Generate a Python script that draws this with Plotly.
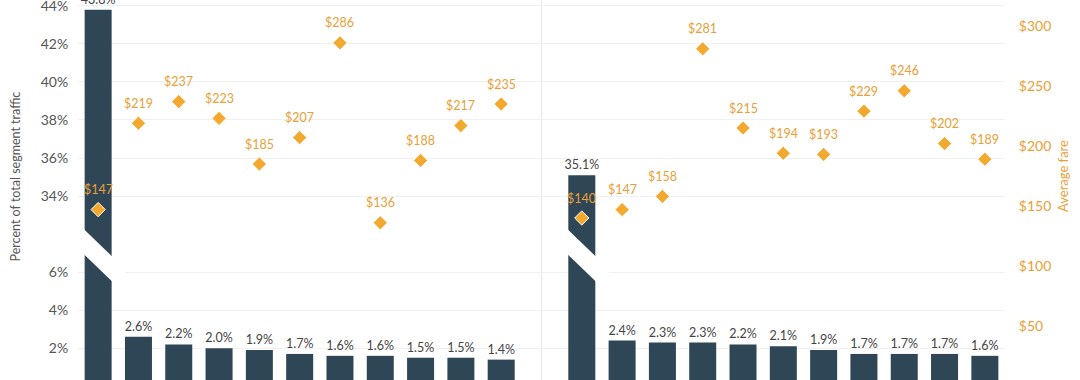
import plotly.graph_objects as go

# ---------------- data ----------------
left_categories = ["L1", "L2", "L3", "L4", "L5", "L6", "L7", "L8", "L9", "L10", "L11"]
right_categories = ["R1", "R2", "R3", "R4", "R5", "R6", "R7", "R8", "R9", "R10", "R11"]
spacer = " "

left_share = [43.8, 2.6, 2.2, 2.0, 1.9, 1.7, 1.6, 1.6, 1.5, 1.5, 1.4]
right_share = [35.1, 2.4, 2.3, 2.3, 2.2, 2.1, 1.9, 1.7, 1.7, 1.7, 1.6]
left_fare = [147, 219, 237, 223, 185, 207, 286, 136, 188, 217, 235]
right_fare = [140, 147, 158, 281, 215, 194, 193, 229, 246, 202, 189]

upper_ticks = [32, 34, 36, 38, 40, 42, 44]
upper_ticktext = ["", "34%", "36%", "38%", "40%", "42%", "44%"]
lower_ticks = [2, 4, 6]
lower_ticktext = ["2%", "4%", "6%"]
fare_ticks = [50, 100, 150, 200, 250, 300]
fare_ticktext = ["$50", "$100", "$150", "$200", "$250", "$300"]

# ---------------- style ----------------
BAR = "#2F4656"
ORANGE = "#F3A82E"
ORANGE_TXT = "#E9A035"
GRID = "#F0F0F0"
FONT = "Lato"

W, H = 1080, 380
ML, MR = 78, 75
PW = W - ML - MR
break_px = 234.1               # pixel row where the axis is broken
d = (H - break_px) / H

categories = left_categories + [spacer] + right_categories
shares = left_share + [None] + right_share
fares = left_fare + [None] + right_fare
big = [i for i, v in enumerate(shares) if v is not None and v > 8]

lower_text = ["" if (v is None or v > 8) else f"{v:.1f}%" for v in shares]
upper_text = ["" if (v is None or v <= 8) else f"{v:.1f}%" for v in shares]

fig = go.Figure()
fig.add_trace(go.Bar(x=categories, y=shares, xaxis="x", yaxis="y",
                     marker=dict(color=BAR, line=dict(width=0)),
                     text=upper_text, textposition="outside", cliponaxis=False,
                     constraintext="none",
                     textfont=dict(family=FONT, size=12.5, color="#444"),
                     hoverinfo="skip", showlegend=False))
fig.add_trace(go.Bar(x=categories, y=shares, xaxis="x", yaxis="y2",
                     marker=dict(color=BAR, line=dict(width=0)),
                     text=lower_text, textposition="outside", cliponaxis=False,
                     constraintext="none",
                     textfont=dict(family=FONT, size=12.5, color="#444"),
                     hoverinfo="skip", showlegend=False))
fig.add_trace(go.Scatter(x=categories, y=fares, xaxis="x", yaxis="y3", mode="markers",
                         marker=dict(symbol="diamond", size=11, color=ORANGE,
                                     line=dict(color="white", width=1)),
                         hoverinfo="skip", showlegend=False, cliponaxis=False))

annotations = []
for c, f in zip(categories, fares):
    if f is None:
        continue
    annotations.append(dict(x=c, y=f, xref="x", yref="y3", text=f"${f}",
                            showarrow=False, yshift=20,
                            font=dict(family=FONT, size=12.5, color=ORANGE_TXT)))

# axis titles
annotations.append(dict(x=(15 - ML) / PW, y=(H - 176.5) / H, xref="paper", yref="paper",
                        xanchor="center", yanchor="middle",
                        text="Percent of total segment traffic", textangle=-90,
                        showarrow=False, font=dict(family=FONT, size=12.5, color="#555")))
annotations.append(dict(x=(1063 - ML) / PW, y=(H - 176) / H, xref="paper", yref="paper",
                        xanchor="center", yanchor="middle",
                        text="Average fare", textangle=-90,
                        showarrow=False, font=dict(family=FONT, size=13, color=ORANGE_TXT)))

# broken-axis white bands and group separator
slot = PW / len(categories)
shapes = []
sep = categories.index(spacer)
shapes.append(dict(type="line", xref="x", yref="paper", x0=sep, x1=sep, y0=0, y1=1,
                   line=dict(color="#E9E9E9", width=1.2), layer="below"))
for k in big:
    def pt(dx, py):
        return f"{k + dx / slot:.4f},{(H - py) / H:.4f}"
    slope = 0.963
    xl, xr = -22, 27
    top_l = 230 + (xl + 13.5) * slope
    top_r = 230 + (xr + 13.5) * slope
    thick = 25
    path = ("M " + pt(xl, top_l) + " L " + pt(xr, top_r) + " L " +
            pt(xr, top_r + thick) + " L " + pt(xl, top_l + thick) + " Z")
    shapes.append(dict(type="path", xref="x", yref="paper", path=path,
                       fillcolor="white", line=dict(width=0), layer="above"))

fig.update_layout(
    width=W, height=H,
    margin=dict(l=ML, r=MR, t=0, b=0, pad=0, autoexpand=False),
    paper_bgcolor="white", plot_bgcolor="rgba(0,0,0,0)",
    font=dict(family=FONT, color="#555"),
    bargap=0.33,
    xaxis=dict(type="category", categoryorder="array", categoryarray=categories,
               range=[-0.5, len(categories) - 0.5], showticklabels=False, automargin=False,
               showgrid=False, zeroline=False, showline=False, ticks="", anchor="y2"),
    yaxis=dict(domain=[d, 1], range=[32, 32 + break_px / 19.02], anchor="x", automargin=False,
               tickmode="array", tickvals=upper_ticks, ticktext=upper_ticktext,
               ticklabeloverflow="allow",
               showgrid=True, gridcolor=GRID, gridwidth=1, zeroline=False,
               ticks="outside", ticklen=6, tickcolor="rgba(0,0,0,0)",
               tickfont=dict(family=FONT, size=14, color="#555")),
    yaxis2=dict(domain=[0, d], range=[8 - (H - break_px) / 19.02, 8], anchor="x", automargin=False,
                tickmode="array", tickvals=lower_ticks, ticktext=lower_ticktext,
                ticklabeloverflow="allow",
                showgrid=True, gridcolor=GRID, gridwidth=1, zeroline=False,
                ticks="outside", ticklen=6, tickcolor="rgba(0,0,0,0)",
                tickfont=dict(family=FONT, size=14, color="#555")),
    yaxis3=dict(domain=[0, 1], range=[5, 5 + H / 1.2], anchor="x", side="right", automargin=False,
                tickmode="array", tickvals=fare_ticks, ticktext=fare_ticktext,
                ticklabeloverflow="allow",
                showgrid=False, zeroline=False,
                ticks="outside", ticklen=10, tickcolor="rgba(0,0,0,0)",
                tickfont=dict(family=FONT, size=14, color=ORANGE_TXT)),
    annotations=annotations,
    shapes=shapes,
)

fig.write_html("out.html", config={"displayModeBar": False},
               post_script="document.body.style.margin='0';document.body.style.overflow='hidden';")
